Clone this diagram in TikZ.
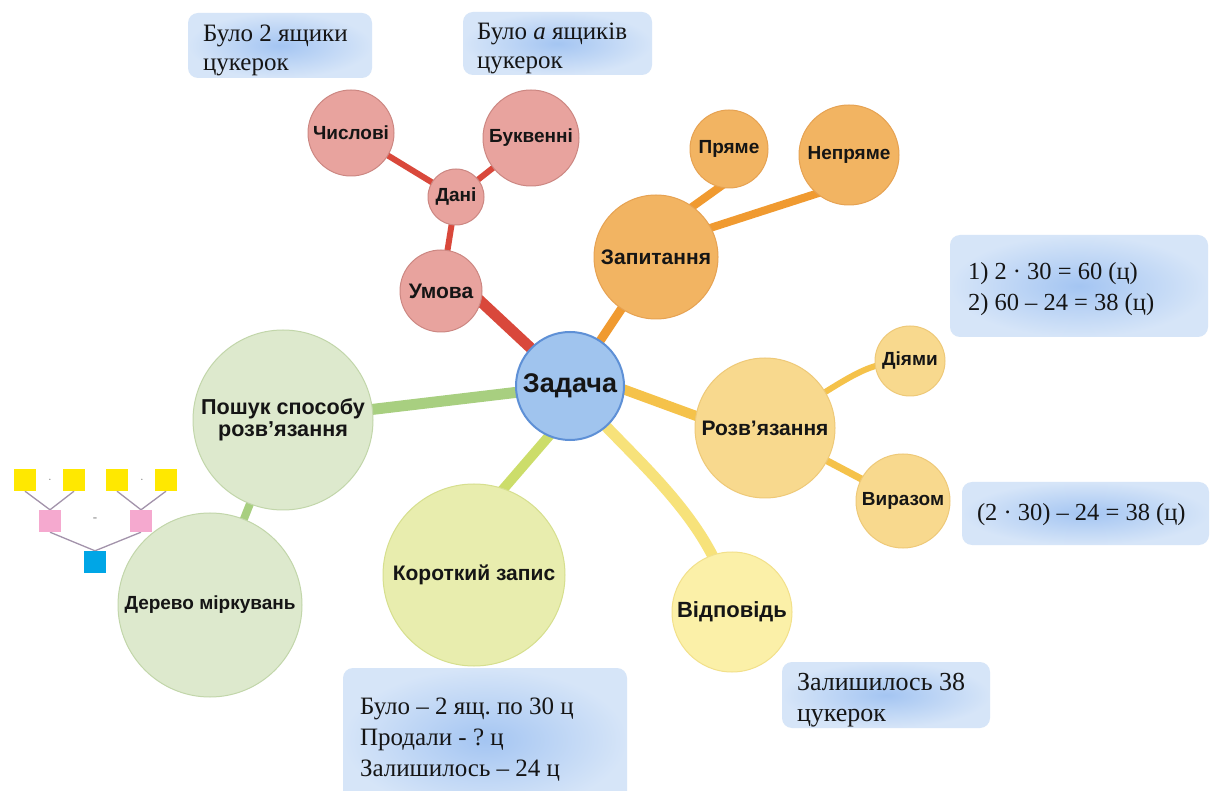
\documentclass[tikz,border=0pt]{standalone}
\usepackage{fontspec}
\setmainfont{Liberation Serif}
\newfontfamily\lsans{Liberation Sans}
\usetikzlibrary{backgrounds}
\definecolor{zadfill}{HTML}{A0C4EE}
\definecolor{zadline}{HTML}{5E90D6}
\definecolor{redfill}{HTML}{E8A39E}
\definecolor{redline}{HTML}{CC8782}
\definecolor{redcon}{HTML}{D9483B}
\definecolor{orfill}{HTML}{F2B462}
\definecolor{orline}{HTML}{E6A252}
\definecolor{orcon}{HTML}{F09A30}
\definecolor{rozfill}{HTML}{F8D98E}
\definecolor{rozline}{HTML}{EEC978}
\definecolor{rozcon}{HTML}{F5C24A}
\definecolor{vidfill}{HTML}{FBF0A8}
\definecolor{vidline}{HTML}{F2E08A}
\definecolor{vidcon}{HTML}{F7E27A}
\definecolor{grfill}{HTML}{DDE9CD}
\definecolor{grline}{HTML}{C2D6AA}
\definecolor{grcon}{HTML}{A8CF80}
\definecolor{kofill}{HTML}{E8EDAE}
\definecolor{koline}{HTML}{D6DF8E}
\definecolor{kocon}{HTML}{CCDD6A}
\definecolor{boxin}{HTML}{A4C5F2}
\definecolor{boxout}{HTML}{D6E5F8}
\definecolor{sqyel}{HTML}{FFE800}
\definecolor{sqpink}{HTML}{F5A9CF}
\definecolor{sqblue}{HTML}{00A6E6}
\definecolor{treeline}{HTML}{A393AB}
\definecolor{txt}{HTML}{151515}
\begin{document}
\frenchspacing
\begin{tikzpicture}[x=1pt,y=-1pt,
  bub/.style={circle, draw, line width=1pt, inner sep=0pt, align=center, text=txt,
    font=\lsans\bfseries\fontsize{19}{22}\selectfont},
  midf/.style={font=\lsans\bfseries\fontsize{21}{23}\selectfont},
  conn/.style={line width=#1, line cap=butt},
  notebox/.style={rounded corners=10pt, inner color=boxin, outer color=boxout, inner sep=0pt},
  notetext/.style={anchor=west, align=left, text=txt, inner sep=0pt,
    font=\fontsize{25}{29}\selectfont},
  sq/.style={minimum size=22pt, inner sep=0pt},
  tl/.style={treeline, line width=1.3pt}
]
\useasboundingbox (0,0) rectangle (1211,791);
\clip (0,0) rectangle (1211,791);
\begin{scope}[on background layer]
\fill[white] (0,0) rectangle (1211,791);
\end{scope}

% bubbles
\node[bub, minimum size=108pt, fill=zadfill, draw=zadline, line width=2pt,
  font=\lsans\bfseries\fontsize{27}{30}\selectfont] (zad) at (570,386) {Задача};
\node[bub, minimum size=82pt, fill=redfill, draw=redline, midf] (umova) at (441,291) {Умова};
\node[bub, minimum size=56pt, fill=redfill, draw=redline] (dani) at (456,197) {Дані};
\node[bub, minimum size=86pt, fill=redfill, draw=redline] (chysl) at (351,133) {Числові};
\node[bub, minimum size=96pt, fill=redfill, draw=redline] (bukv) at (531,138) {Буквенні};
\node[bub, minimum size=124pt, fill=orfill, draw=orline, midf] (zap) at (656,257) {Запитання};
\node[bub, minimum size=78pt, fill=orfill, draw=orline] (pryame) at (729,149) {Пряме};
\node[bub, minimum size=100pt, fill=orfill, draw=orline] (nepr) at (849,155) {Непряме};
\node[bub, minimum size=140pt, fill=rozfill, draw=rozline, midf] (roz) at (765,428) {Розв’язання};
\node[bub, minimum size=70pt, fill=rozfill, draw=rozline] (diyamy) at (910,361) {Діями};
\node[bub, minimum size=94pt, fill=rozfill, draw=rozline] (vyraz) at (903,501) {Виразом};
\node[bub, minimum size=120pt, fill=vidfill, draw=vidline, font=\lsans\bfseries\fontsize{22}{24}\selectfont] (vidp) at (732,612) {Відповідь};
\node[bub, minimum size=180pt, fill=grfill, draw=grline, font=\lsans\bfseries\fontsize{21.6}{22.5}\selectfont] (poshuk) at (283,420) {Пошук способу\\розв’язання};
\node[bub, minimum size=184pt, fill=grfill, draw=grline] (derevo) at (210,605) {Дерево міркувань};
\node[bub, minimum size=182pt, fill=kofill, draw=koline, midf] (korot) at (474,575) {Короткий запис};

% connectors
\begin{scope}[on background layer]
\draw[conn=11pt, redcon, shorten <=-6pt, shorten >=-6pt] (umova.-15) -- (zad.136);
\draw[conn=6pt, redcon] (umova.center) -- (dani.center);
\draw[conn=6pt, redcon] (dani.center) -- (chysl.center);
\draw[conn=6pt, redcon] (dani.center) -- (bukv.center);
\draw[conn=9pt, orcon] (zad.center) -- (zap.center);
\draw[conn=8pt, orcon, shorten <=-6pt, shorten >=-6pt] (zap.54) -- (pryame.-104);
\draw[conn=8pt, orcon, shorten <=-6pt, shorten >=-6pt] (zap.28) -- (nepr.-130);
\draw[conn=10pt, rozcon, shorten <=-6pt, shorten >=-6pt] (zad.-4) -- (roz.170);
\draw[conn=6pt, rozcon] (roz.center) .. controls (850,380) and (860,362) .. (diyamy.center);
\draw[conn=7pt, rozcon] (roz.center) -- (vyraz.center);
\draw[conn=11pt, vidcon] (zad.center) .. controls (620,450) and (715,515) .. (vidp.center);
\draw[conn=11pt, grcon] (zad.center) -- (poshuk.center);
\draw[conn=8pt, grcon] (poshuk.center) -- (derevo.center);
\draw[conn=10pt, kocon, shorten <=-6pt, shorten >=-6pt] (zad.-113) -- (korot.71);
\end{scope}

% notes
\node[notebox, minimum width=184pt, minimum height=65pt] (n1) at (280,45.5) {};
\node[notetext] (t1) at ([xshift=15pt,yshift=-5pt]n1.west) {Було 2 ящики\\цукерок};
\node[notebox, minimum width=189pt, minimum height=63pt] (n2) at (557.5,43.5) {};
\node[notetext] (t2) at ([xshift=14pt,yshift=-5pt]n2.west) {Було \textit{a} ящиків\\цукерок};
\node[notebox, minimum width=258pt, minimum height=102pt] (n3) at (1079,286) {};
\node[notetext, font=\fontsize{24.5}{31}\selectfont] (t3) at ([xshift=18pt,yshift=-3pt]n3.west) {1) 2 · 30 = 60 (ц)\\2) 60 – 24 = 38 (ц)};
\node[notebox, minimum width=247pt, minimum height=63pt] (n4) at (1085.5,513.5) {};
\node[notetext, font=\fontsize{24.5}{31}\selectfont] (t4) at ([xshift=15pt,yshift=-1pt]n4.west) {(2 · 30) – 24 = 38 (ц)};
\node[notebox, minimum width=284pt, minimum height=144pt] (n5) at (485,740) {};
\node[notetext, font=\fontsize{25}{31}\selectfont] (t5) at ([xshift=17pt]n5.west) {Було – 2 ящ. по 30 ц\\Продали - ? ц\\Залишилось – 24 ц};
\node[notebox, minimum width=208pt, minimum height=66pt] (n6) at (886,695) {};
\node[notetext, font=\fontsize{26}{31}\selectfont] (t6) at ([xshift=15pt,yshift=-5pt]n6.west) {Залишилось 38\\цукерок};

% reasoning tree
\node[sq, fill=sqyel] (y1) at (25,480) {};
\node[sq, fill=sqyel] (y2) at (74,480) {};
\node[sq, fill=sqyel] (y3) at (117,480) {};
\node[sq, fill=sqyel] (y4) at (166,480) {};
\node[sq, fill=sqpink] (p1) at (50,521) {};
\node[sq, fill=sqpink] (p2) at (141,521) {};
\node[sq, fill=sqblue] (b1) at (95,562) {};
\node[text=gray, font=\fontsize{11}{11}\selectfont] (d1) at (50,481) {·};
\node[text=gray, font=\fontsize{11}{11}\selectfont] (d2) at (142,481) {·};
\node[text=gray, font=\fontsize{13}{13}\selectfont] (d3) at (95,520) {-};
\begin{scope}[on background layer]
\draw[tl] (y1.south) -- (p1.north);
\draw[tl] (y2.south) -- (p1.north);
\draw[tl] (y3.south) -- (p2.north);
\draw[tl] (y4.south) -- (p2.north);
\draw[tl] (p1.south) -- (b1.north);
\draw[tl] (p2.south) -- (b1.north);
\end{scope}
\end{tikzpicture}
\end{document}
